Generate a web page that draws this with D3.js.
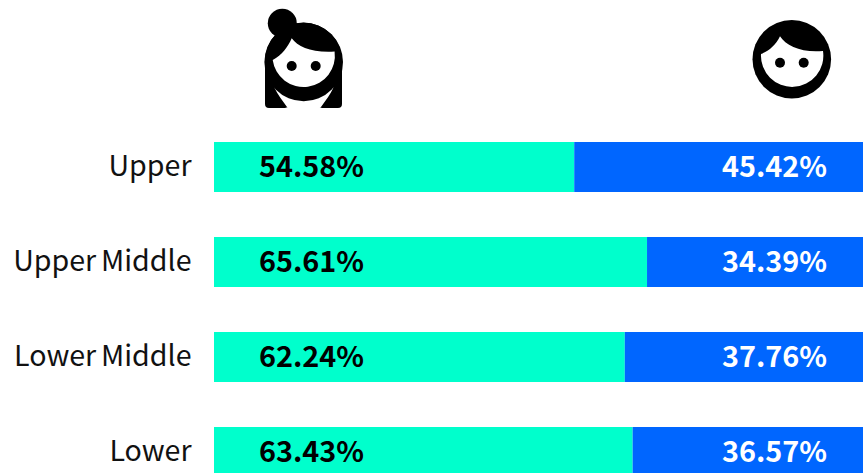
<!DOCTYPE html>
<html>
<head>
<meta charset="utf-8">
<script src="https://cdn.jsdelivr.net/npm/d3@7"></script>
<style>
html,body{margin:0;padding:0;background:#fff;overflow:hidden}
svg{display:block}
text{font-family:"Noto Sans CJK SC","Noto Sans",sans-serif}
</style>
</head>
<body>
<svg id="c" width="863" height="473"></svg>
<script>
const categories = ["Upper", "Upper Middle", "Lower Middle", "Lower"];
const womenValues = [54.58, 65.61, 62.24, 63.43];
const menValues = [45.42, 34.39, 37.76, 36.57];
const womenColor = "#00ffcc", menColor = "#0066ff";

const svg = d3.select("#c");
const x = d3.scaleLinear().domain([0, 100]).range([214, 874]);
const y = d3.scaleBand().domain(categories).range([142, 477]).paddingInner(45 / 95).paddingOuter(0);

const rows = categories.map((c, i) => ({c, w: womenValues[i], m: menValues[i]}));

const yAxis = d3.axisLeft(y).tickSize(0).tickPadding(0);
const gAxis = svg.append("g").attr("transform", "translate(191.5,0)").call(yAxis);
gAxis.select(".domain").remove();
gAxis.selectAll("text").attr("fill", "#111").style("font-size", "28.6px")
  .style("font-family", '"Noto Sans CJK SC"').style("word-spacing", "-1.6px").attr("dy", "0.33em");

svg.selectAll("rect.w").data(rows).join("rect").attr("class", "w")
  .attr("x", x(0)).attr("y", d => y(d.c)).attr("width", d => x(d.w) - x(0))
  .attr("height", y.bandwidth()).attr("fill", womenColor);
svg.selectAll("rect.m").data(rows).join("rect").attr("class", "m")
  .attr("x", d => x(d.w)).attr("y", d => y(d.c)).attr("width", d => x(d.m) - x(0))
  .attr("height", y.bandwidth()).attr("fill", menColor);

svg.selectAll("text.wl").data(rows).join("text").attr("class", "wl")
  .attr("x", x(0) + 45).attr("y", d => y(d.c) + y.bandwidth() / 2).attr("dy", "0.33em")
  .attr("fill", "#000").style("font-size", "28.8px").style("font-weight", 700)
  .text(d => d.w.toFixed(2) + "%");
svg.selectAll("text.ml").data(rows).join("text").attr("class", "ml")
  .attr("x", 827).attr("y", d => y(d.c) + y.bandwidth() / 2).attr("dy", "0.33em")
  .attr("text-anchor", "end")
  .attr("fill", "#fff").style("font-size", "28.8px").style("font-weight", 700)
  .text(d => d.m.toFixed(2) + "%");

// Woman icon
const woman = svg.append("g");
woman.append("circle").attr("cx", 282.3).attr("cy", 23.3).attr("r", 14.5);
woman.append("path").attr("d", "M265,104V61A38.5,38.5 0 0 1 342,61V104Q342,108 338,108H322Q319,108 317,105L303,95L290,105Q288,108 285,108H269Q265,108 265,104Z");
woman.append("path").attr("fill", "#fff").attr("d", "M274.3,87.5C278,95 282,100 287,107L290,109H318L321,107C326,100 330,95 333.5,87.5Z");
woman.append("circle").attr("cx", 303.7).attr("cy", 62).attr("r", 39.3);
woman.append("path").attr("fill", "#fff").attr("d", "M272.7,60C282,55 288,47 291.7,38.3C298,47 312,53 334.6,51.6A31.2,31.2 0 1 1 272.7,60Z");
woman.selectAll("circle.e").data([291.7, 315.7]).join("circle").attr("class", "e").attr("cx", d => d).attr("cy", 66).attr("r", 5);

// Man icon
const man = svg.append("g");
man.append("circle").attr("cx", 791.8).attr("cy", 59.3).attr("r", 39.3);
man.append("path").attr("fill", "#fff").attr("d", "M761,54C769,51 776,45 780,36.3C786,46 802,53 823,51A31.2,31.2 0 1 1 761,54Z");
man.selectAll("circle.e").data([780, 803.7]).join("circle").attr("class", "e").attr("cx", d => d).attr("cy", 62.7).attr("r", 5);
</script>
</body>
</html>
